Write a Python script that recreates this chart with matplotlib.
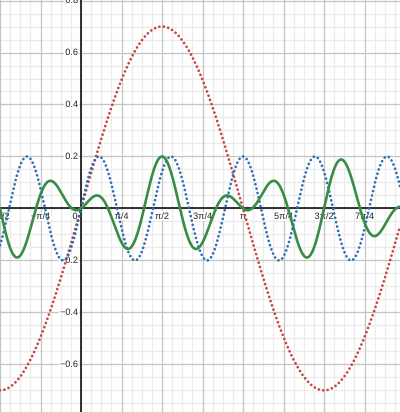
import numpy as np
import matplotlib
matplotlib.use("Agg")
from matplotlib import pyplot as plt
from matplotlib import patheffects as pe

PI = np.pi

# curve parameters
red_amp, red_freq = 0.7, 1.0
blue_amp, blue_freq = 0.2, 4.5
green_amp, green_freq, green_phase = 0.2, 4.5, PI / 4

# axis labels
x_tick_steps = [-2, -1, 1, 2, 3, 4, 5, 6, 7]  # multiples of pi/4
x_tick_labels = ["−π/2", "−π/4", "π/4", "π/2", "3π/4", "π", "5π/4", "3π/2", "7π/4"]
y_tick_values = [-0.8, -0.6, -0.4, -0.2, 0.2, 0.4, 0.6, 0.8]
y_tick_labels = ["−0.8", "−0.6", "−0.4", "−0.2", "0.2", "0.4", "0.6", "0.8"]

RED = "#c74440"
BLUE = "#2d70b3"
GREEN = "#388c46"

plt.rcParams["font.family"] = ["Liberation Sans", "DejaVu Sans"]

fig = plt.figure(figsize=(4.0, 4.12), dpi=100)
ax = fig.add_axes([0, 0, 1, 1])
xmin, xmax = -0.5 * PI, 1.969 * PI
ymin, ymax = -0.783, 0.802
ax.set_xlim(xmin, xmax)
ax.set_ylim(ymin, ymax)
ax.axis("off")

## grid: minor every pi/16 and 0.05, major every pi/4 and 0.2
for k in range(-8, 33):
    xv = k * PI / 16
    major = k % 4 == 0
    ax.axvline(xv, color="#c4c4c4" if major else "#ebebeb", lw=0.9, zorder=1 if major else 0)
for k in range(-16, 17):
    yv = k * 0.05
    major = k % 4 == 0
    ax.axhline(yv, color="#c4c4c4" if major else "#ebebeb", lw=0.9, zorder=1 if major else 0)

ax.axhline(0, color="#222222", lw=1.3, zorder=2)
ax.axvline(0, color="#222222", lw=1.3, zorder=2)

halo = [pe.withStroke(linewidth=2.5, foreground="white")]
for step, lab in zip(x_tick_steps, x_tick_labels):
    ax.annotate(lab, (step * PI / 4, 0), xytext=(0, -8), textcoords="offset pixels",
                ha="center", va="center", fontsize=6.6, color="#222222",
                path_effects=halo, zorder=3)
ax.annotate("0", (0, 0), xytext=(-6, -8), textcoords="offset pixels",
            ha="center", va="center", fontsize=6.6, color="#222222",
            path_effects=halo, zorder=3)
for yv, lab in zip(y_tick_values, y_tick_labels):
    ax.annotate(lab, (0, yv), xytext=(-3, 0), textcoords="offset pixels",
                ha="right", va="center", fontsize=6.6, color="#222222",
                path_effects=halo, zorder=3)

## curves
x = np.linspace(xmin, xmax, 3000)
red_y = red_amp * np.sin(red_freq * x)
blue_y = blue_amp * np.sin(blue_freq * x)
green_y = green_amp * np.sin(x) * np.sin(green_freq * x + green_phase)

dots = (0, (0.01, 1.6))
ax.plot(x, red_y, color=RED, lw=2.0, ls=dots, dash_capstyle="round", zorder=4)
ax.plot(x, blue_y, color=BLUE, lw=2.0, ls=dots, dash_capstyle="round", zorder=5)
ax.plot(x, green_y, color=GREEN, lw=1.9, solid_capstyle="round", zorder=6)

fig.savefig("out.png", dpi=100)
